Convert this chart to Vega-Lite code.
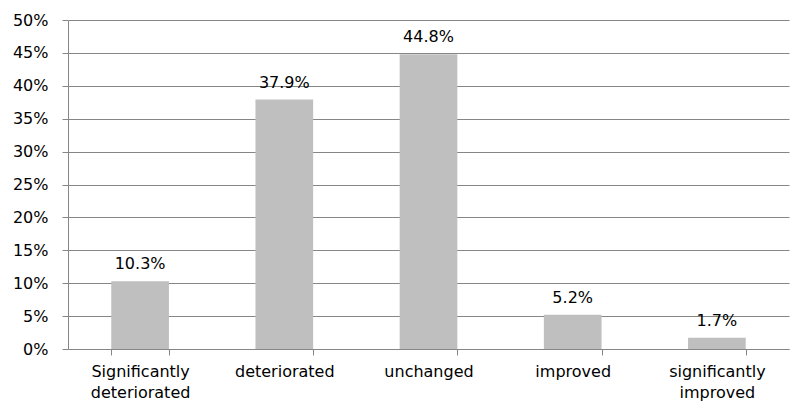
{
  "$schema": "https://vega.github.io/schema/vega-lite/v6.json",
  "width": 721,
  "height": 329,
  "autosize": {"type": "none"},
  "padding": {"left": 68, "top": 20, "right": 8, "bottom": 63},
  "background": "white",
  "config": {
    "view": {"stroke": null},
    "font": "DejaVu Sans",
    "axis": {"labelFont": "DejaVu Sans", "labelFontSize": 16, "labelColor": "#000000", "domainColor": "#868686", "tickColor": "#868686", "gridColor": "#868686"}
  },
  "data": {
    "values": [
      {"category": "Significantly deteriorated", "value": 0.103, "order": 1},
      {"category": "deteriorated", "value": 0.379, "order": 2},
      {"category": "unchanged", "value": 0.448, "order": 3},
      {"category": "improved", "value": 0.052, "order": 4},
      {"category": "significantly improved", "value": 0.017, "order": 5}
    ]
  },
  "encoding": {
    "x": {
      "field": "category",
      "type": "nominal",
      "sort": {"field": "order"},
      "scale": {"paddingInner": 0.6, "paddingOuter": 0.3},
      "axis": {
        "title": null,
        "labelAngle": 0,
        "labelExpr": "split(datum.label, ' ')",
        "labelLineHeight": 21,
        "labelPadding": 8,
        "tickBand": "extent",
        "tickSize": 6,
        "grid": false,
        "labelBaseline": "top"
      }
    },
    "y": {
      "field": "value",
      "type": "quantitative",
      "scale": {"domain": [0, 0.5], "nice": false},
      "axis": {
        "title": null,
        "format": ".0%",
        "values": [0, 0.05, 0.1, 0.15, 0.2, 0.25, 0.3, 0.35, 0.4, 0.45, 0.5],
        "labelOverlap": false,
        "grid": true,
        "tickSize": 6,
        "labelPadding": 14
      }
    }
  },
  "layer": [
    {"mark": {"type": "bar", "color": "#BFBFBF"}},
    {
      "mark": {"type": "text", "baseline": "bottom", "dy": -9, "fontSize": 16, "font": "DejaVu Sans", "color": "#000000"},
      "encoding": {"text": {"field": "value", "type": "quantitative", "format": ".1%"}}
    }
  ]
}
